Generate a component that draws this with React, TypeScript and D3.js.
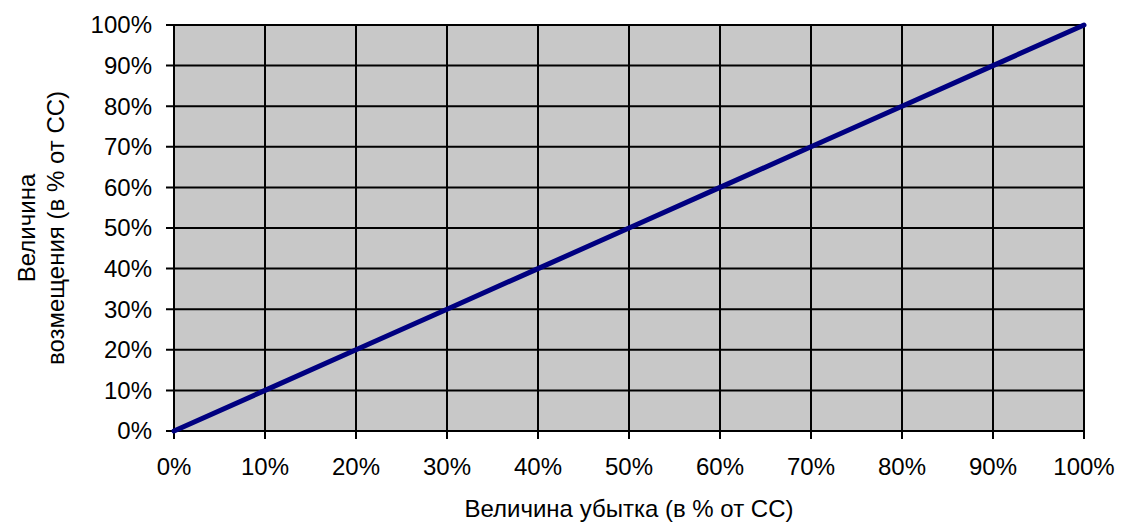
import React from "react";
import * as d3 from "d3";

const xTicks = [0, 10, 20, 30, 40, 50, 60, 70, 80, 90, 100];
const yTicks = [0, 10, 20, 30, 40, 50, 60, 70, 80, 90, 100];
const lossValues = [0, 10, 20, 30, 40, 50, 60, 70, 80, 90, 100];
const compensationValues = [0, 10, 20, 30, 40, 50, 60, 70, 80, 90, 100];

const width = 1127;
const height = 526;
const margin = { left: 174, right: 43, top: 25, bottom: 95 };

export default function App() {
  const x = d3
    .scaleLinear()
    .domain([0, 100])
    .range([margin.left, width - margin.right]);
  const y = d3
    .scaleLinear()
    .domain([0, 100])
    .range([height - margin.bottom, margin.top]);

  const points = lossValues.map((v, i) => [v, compensationValues[i]] as [number, number]);
  const line = d3
    .line<[number, number]>()
    .x((d) => x(d[0]))
    .y((d) => y(d[1]));

  const font = "'Liberation Sans', Arial, sans-serif";
  const fs = 24;

  return (
    <svg
      width={width}
      height={height}
      style={{ position: "absolute", left: 0, top: 0, background: "#fff" }}
      fontFamily={font}
    >
      <rect
        x={x(0)}
        y={y(100)}
        width={x(100) - x(0)}
        height={y(0) - y(100)}
        fill="#c8c8c8"
      />
      {yTicks.map((t) => (
        <line
          key={"gy" + t}
          x1={x(0) - 8}
          x2={x(100)}
          y1={y(t)}
          y2={y(t)}
          stroke="#000"
          strokeWidth={2}
        />
      ))}
      {xTicks.map((t) => (
        <line
          key={"gx" + t}
          x1={x(t)}
          x2={x(t)}
          y1={y(100)}
          y2={y(0) + 8}
          stroke="#000"
          strokeWidth={2}
        />
      ))}
      {yTicks.map((t) => (
        <text
          key={"ly" + t}
          x={x(0) - 22}
          y={y(t)}
          dy="0.35em"
          textAnchor="end"
          fontSize={fs}
        >
          {t}%
        </text>
      ))}
      {xTicks.map((t) => (
        <text
          key={"lx" + t}
          x={x(t)}
          y={y(0) + 44}
          textAnchor="middle"
          fontSize={fs}
        >
          {t}%
        </text>
      ))}
      <path
        d={line(points) ?? ""}
        fill="none"
        stroke="#000080"
        strokeWidth={5}
        strokeLinecap="round"
      />
      <text x={(x(0) + x(100)) / 2} y={517} textAnchor="middle" fontSize={fs}>
        Величина убытка (в % от СС)
      </text>
      <text
        transform={`translate(35, ${(y(0) + y(100)) / 2}) rotate(-90)`}
        textAnchor="middle"
        fontSize={fs}
      >
        Величина
      </text>
      <text
        transform={`translate(64, ${(y(0) + y(100)) / 2}) rotate(-90)`}
        textAnchor="middle"
        fontSize={fs}
      >
        возмещения (в % от СС)
      </text>
    </svg>
  );
}
